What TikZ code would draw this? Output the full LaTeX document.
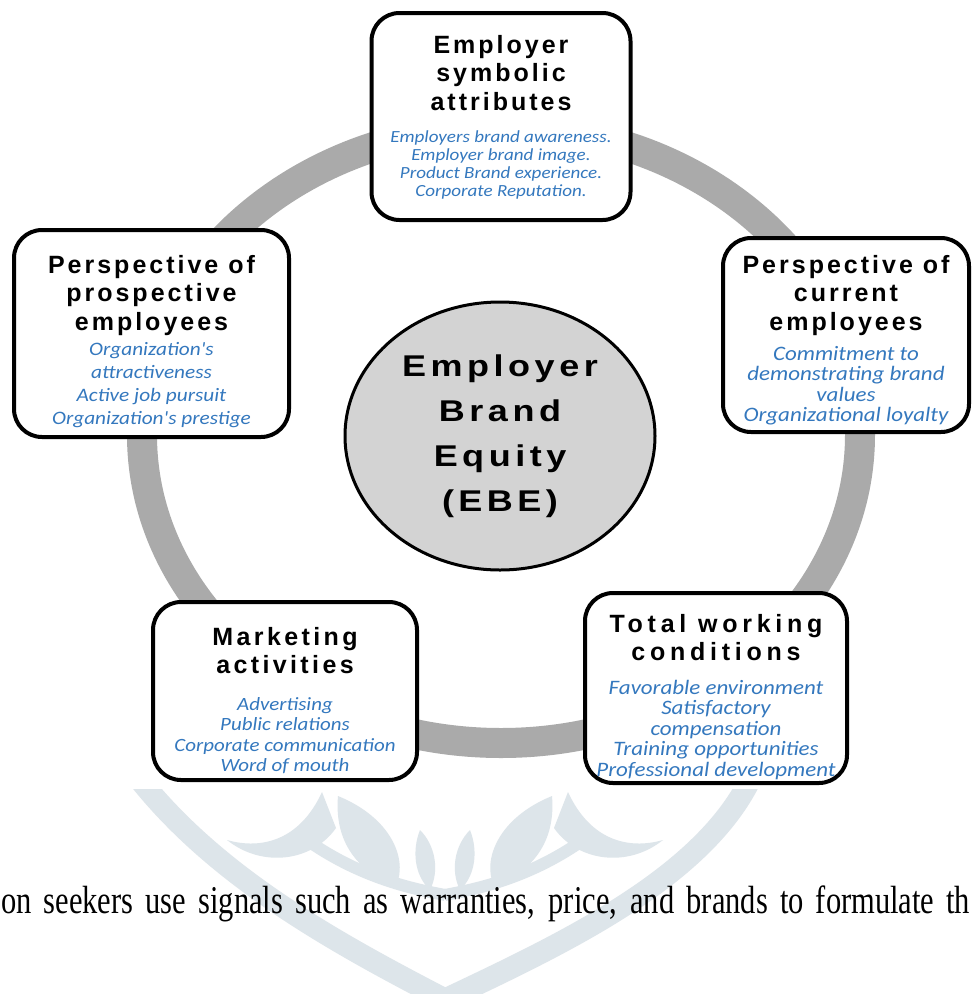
\documentclass[tikz,border=0pt]{standalone}
\usepackage{fontspec}
\usepackage{graphicx}
\usetikzlibrary{shapes.geometric}
\newfontfamily\headfont{Liberation Sans}
\newfontfamily\itemfont[FakeStretch=1.12]{Carlito}
\newfontfamily\corefont[LetterSpace=15,FakeStretch=1.2]{Liberation Sans}
\newfontfamily\pagefont{Liberation Serif}
\definecolor{ringgray}{RGB}{170,170,170}
\definecolor{coregray}{RGB}{211,211,211}
\definecolor{itemblue}{RGB}{52,120,190}
\definecolor{leafgray}{RGB}{221,229,234}
\tikzset{
  card/.style={draw=black, line width=4pt, rounded corners=28pt, fill=white, inner sep=0pt},
  head/.style={anchor=north, inner sep=0pt, align=center,
    font=\headfont\addfontfeature{LetterSpace=#1}\bfseries\fontsize{25}{28.5}\selectfont},
  head/.default=12,
  items/.style 2 args={anchor=north, inner sep=0pt, align=center, text=itemblue, font=\itemfont\itshape\fontsize{#1}{#2}\selectfont},
  core/.style={ellipse, draw=black, line width=3pt, fill=coregray, inner sep=0pt, align=center,
    font=\corefont\bfseries\fontsize{30}{45}\selectfont},
  leaf/.style={fill=leafgray, draw=none},
}
\begin{document}
\begin{tikzpicture}[x=1pt, y=-1pt]
    \useasboundingbox[fill=white] (0,0) rectangle (972,994);
    % Watermark below the figure
    \begin{scope}
      \clip (0,789) rectangle (972,994);
      \draw[leafgray, line width=22pt] (140,780) .. controls (220,880) and (340,945) .. (446,1000);
      \draw[leafgray, line width=22pt] (750,780) .. controls (700,880) and (560,945) .. (444,1000);
      \draw[leafgray, line width=12pt] (300,835) .. controls (360,880) and (420,890) .. (445,895);
      \draw[leafgray, line width=12pt] (590,835) .. controls (530,880) and (470,890) .. (445,895);
      \fill[leaf] (322,792) .. controls (300,840) and (262,850) .. (227,840) .. controls (262,868) and (312,862) .. (336,828) -- cycle;
      \fill[leaf] (338,796) .. controls (392,818) and (408,860) .. (396,886) .. controls (358,872) and (334,842) .. cycle;
      \fill[leaf] (568,792) .. controls (590,840) and (628,850) .. (663,840) .. controls (628,868) and (578,862) .. (554,828) -- cycle;
      \fill[leaf] (552,796) .. controls (498,818) and (482,860) .. (494,886) .. controls (532,872) and (556,842) .. cycle;
      \fill[leaf] (470,830) .. controls (478,850) and (476,875) .. (460,890) .. controls (450,870) and (455,845) .. cycle;
      \fill[leaf] (420,830) .. controls (412,850) and (414,875) .. (430,890) .. controls (440,870) and (435,845) .. cycle;
    \end{scope}
    % Text line of the page
    \node[anchor=base west, inner sep=0pt] (pageline) at (1,913)
      {\scalebox{1}[1.29]{\pagefont\fontsize{30.5}{31}\selectfont\makebox[969pt][s]{on seekers use signals such as warranties, price, and brands to formulate th}}};
    % Ring
    \draw[ringgray, line width=30pt] (501,435) ellipse [x radius=359pt, y radius=308pt];
    % Employer brand equity
    \node[core, minimum width=310pt, minimum height=268pt] (ebe) at (500,436) {Employer\\Brand\\Equity\\(EBE)};
    % Employer symbolic attributes
    \node[card, minimum width=259pt, minimum height=207pt] (sym) at (501,116.5) {};
    \node[head] (sym-head) at (501,35) {Employer\\symbolic\\attributes};
    \node[items={17}{18.3}] (sym-items) at (501,130) {Employers brand awareness.\\Employer brand image.\\Product Brand experience.\\Corporate Reputation.};
    % Perspective of prospective employees
    \node[card, minimum width=275pt, minimum height=207pt] (pros) at (151.5,333.5) {};
    \node[head] (pros-head) at (151.5,255) {Perspective of\\prospective\\employees};
    \node[items={19}{23}] (pros-items) at (151.5,342) {Organization's\\attractiveness\\Active job pursuit\\Organization's prestige};
    % Perspective of current employees
    \node[card, minimum width=246pt, minimum height=194pt] (curr) at (846,335) {};
    \node[head] (curr-head) at (846,255) {Perspective of\\current\\employees};
    \node[items={20.5}{20.5}] (curr-items) at (846,346) {Commitment to\\demonstrating brand\\values\\Organizational loyalty};
    % Marketing activities
    \node[card, minimum width=264pt, minimum height=178pt] (mkt) at (285,691) {};
    \node[head=13.5] (mkt-head) at (285,627) {Marketing\\activities};
    \node[items={18.7}{20.5}] (mkt-items) at (285,697) {Advertising\\Public relations\\Corporate communication\\Word of mouth};
    % Total working conditions
    \node[card, minimum width=262pt, minimum height=190pt] (work) at (716,688) {};
    \node[head=19] (work-head) at (716,614) {Total working\\conditions};
    \node[items={20.5}{20.5}] (work-items) at (716,680) {Favorable environment\\Satisfactory\\compensation\\Training opportunities\\Professional development};
\end{tikzpicture}
\end{document}
